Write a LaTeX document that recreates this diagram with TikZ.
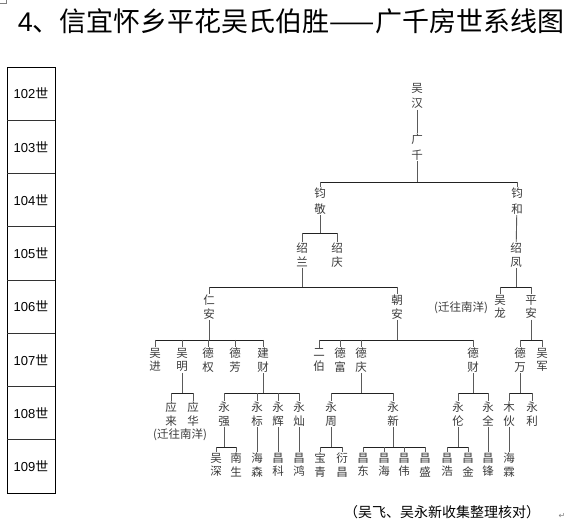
\documentclass[tikz,border=0pt]{standalone}
\usepackage{fontspec}
\setmainfont{Liberation Sans}
\newfontfamily\cjk{Noto Sans CJK SC}
\newfontfamily\symf{DejaVu Sans}
\definecolor{tc}{HTML}{3A3A3A}
\definecolor{vc}{HTML}{5A5A5A}
\definecolor{hc}{HTML}{222222}
\newcommand\famlink[5]{%
  \draw[vl] (#1.south) -- (#1.south |- 0,#2);
  \draw[hb] (#3.north |- 0,#2) -- (#4.north |- 0,#2);
  \foreach \c in {#5} {\draw[vl] (\c.north |- 0,#2) -- (\c.north);}
}
\begin{document}
\begin{tikzpicture}[x=1pt,y=-1pt,
  nm/.style={font=\cjk\fontsize{11.5}{13.5}\selectfont, text=tc, align=center, inner sep=0.8pt},
  up/.style={font=\cjk\fontsize{11.5}{15.5}\selectfont, text=tc, align=center, inner sep=0.8pt},
  note/.style={font=\cjk\fontsize{11.5}{13}\selectfont, text=tc, inner sep=0pt},
  vl/.style={draw=vc, line width=0.9pt},
  hb/.style={draw=hc, line width=0.9pt},
  gen/.style={font=\fontsize{13}{13}\selectfont, text=black, inner sep=0pt}]
\useasboundingbox (0,0) rectangle (570,526);
% corner mark
\draw[gray, line width=0.5pt] (0,3) -- (6,3) -- (6,0);
% title
\node[inner sep=0pt] (title) at (291,21) {\fontsize{27}{27}\selectfont 4\cjk 、信宜怀乡平花吴氏伯胜——广千房世系线图};
% generation column
\draw[black, line width=0.8pt] (7,67) rectangle (55,493);
\foreach \k in {1,...,7} {\draw[black!80, line width=0.8pt] (7,{67+53.25*\k}) -- (55,{67+53.25*\k});}
\foreach \g [count=\i from 0] in {102,...,109} {\node[gen] (g\g) at (31,{93.6+53.25*\i}) {\g{\cjk 世}};}
% names
\node[up] (wuhan) at (417,96) {吴\\汉};
\node[up] (gq) at (417,147) {广\\千};
\node[up] (jj) at (320,201) {钧\\敬};
\node[up] (jh) at (517,201) {钧\\和};
\node[nm] (sl) at (302,255) {绍\\兰};
\node[nm] (sq) at (337,255) {绍\\庆};
\node[nm] (sf) at (516,255) {绍\\凤};
\node[nm] (renan) at (209,307) {仁\\安};
\node[nm] (chaoan) at (397,307) {朝\\安};
\node[nm] (wulong) at (500,307) {吴\\龙};
\node[nm] (pingan) at (531,307) {平\\安};
\node[note] (qw1) at (461,308) {(迁往南洋)};
% 107
\node[nm] (wujin) at (155,360) {吴\\进};
\node[nm] (wuming) at (182,360) {吴\\明};
\node[nm] (dequan) at (208,360) {德\\权};
\node[nm] (defang) at (235,360) {德\\芳};
\node[nm] (jiancai) at (263,360) {建\\财};
\node[nm] (erbo) at (319,360) {二\\伯};
\node[nm] (defu) at (340,360) {德\\富};
\node[nm] (deqing) at (361,360) {德\\庆};
\node[nm] (decai) at (473,360) {德\\财};
\node[nm] (dewan) at (520,360) {德\\万};
\node[nm] (wujun) at (542,360) {吴\\军};
% 108
\node[nm] (yinglai) at (171,414) {应\\来};
\node[nm] (yinghua) at (193,414) {应\\华};
\node[note] (qw2) at (180,435) {(迁往南洋)};
\node[nm] (yq) at (224,414) {永\\强};
\node[nm] (yb) at (257,414) {永\\标};
\node[nm] (yh) at (278,414) {永\\辉};
\node[nm] (yc) at (299,414) {永\\灿};
\node[nm] (yzhou) at (331,414) {永\\周};
\node[nm] (yx) at (393,414) {永\\新};
\node[nm] (ylun) at (458,414) {永\\伦};
\node[nm] (yquan) at (488,414) {永\\全};
\node[nm] (muhuo) at (509,414) {木\\伙};
\node[nm] (yli) at (532,414) {永\\利};
% 109
\node[nm] (wushen) at (216,465) {吴\\深};
\node[nm] (nansheng) at (236,465) {南\\生};
\node[nm] (haisen) at (257,465) {海\\森};
\node[nm] (changke) at (278,465) {昌\\科};
\node[nm] (changhong) at (299,465) {昌\\鸿};
\node[nm] (baoqing) at (320,465) {宝\\青};
\node[nm] (yanchang) at (342,465) {衍\\昌};
\node[nm] (cdong) at (363,465) {昌\\东};
\node[nm] (chai) at (384,465) {昌\\海};
\node[nm] (cwei) at (404,465) {昌\\伟};
\node[nm] (csheng) at (425,465) {昌\\盛};
\node[nm] (chao) at (447,465) {昌\\浩};
\node[nm] (cjin) at (468,465) {昌\\金};
\node[nm] (cfeng) at (488,465) {昌\\锋};
\node[nm] (hailin) at (509,465) {海\\霖};
% connectors
\draw[vl] (wuhan) -- (gq);
\famlink{gq}{182}{jj}{jh}{jj,jh}
\famlink{jj}{233}{sl}{sq}{sl,sq}
\draw[vl] (jh) -- (sf);
\famlink{sl}{287}{renan}{chaoan}{renan,chaoan}
\famlink{sf}{287}{wulong}{pingan}{wulong,pingan}
\famlink{renan}{340}{wujin}{jiancai}{wujin,wuming,dequan,defang,jiancai}
\famlink{chaoan}{340}{erbo}{decai}{erbo,defu,deqing,decai}
\famlink{pingan}{340}{dewan}{wujun}{dewan,wujun}
\famlink{wuming}{393}{yinglai}{yinghua}{yinglai,yinghua}
\famlink{jiancai}{393}{yq}{yc}{yq,yb,yh,yc}
\famlink{deqing}{393}{yzhou}{yx}{yzhou,yx}
\famlink{decai}{393}{ylun}{yquan}{ylun,yquan}
\famlink{dewan}{393}{muhuo}{yli}{muhuo,yli}
\famlink{yq}{447}{wushen}{nansheng}{wushen,nansheng}
\draw[vl] (yb) -- (haisen);
\draw[vl] (yh) -- (changke);
\draw[vl] (yc) -- (changhong);
\famlink{yzhou}{447}{baoqing}{yanchang}{baoqing,yanchang}
\famlink{yx}{447}{cdong}{csheng}{cdong,chai,cwei,csheng}
\famlink{ylun}{447}{chao}{cjin}{chao,cjin}
\draw[vl] (yquan) -- (cfeng);
\draw[vl] (muhuo) -- (hailin);
% footer
\node[inner sep=0pt] (foot) at (442,512) {\cjk\fontsize{14}{14}\selectfont （吴飞、吴永新收集整理核对）};
\node[inner sep=0pt, text=gray] (ret) at (562,516) {\symf\fontsize{8}{8}\selectfont ↵};
\end{tikzpicture}
\end{document}
